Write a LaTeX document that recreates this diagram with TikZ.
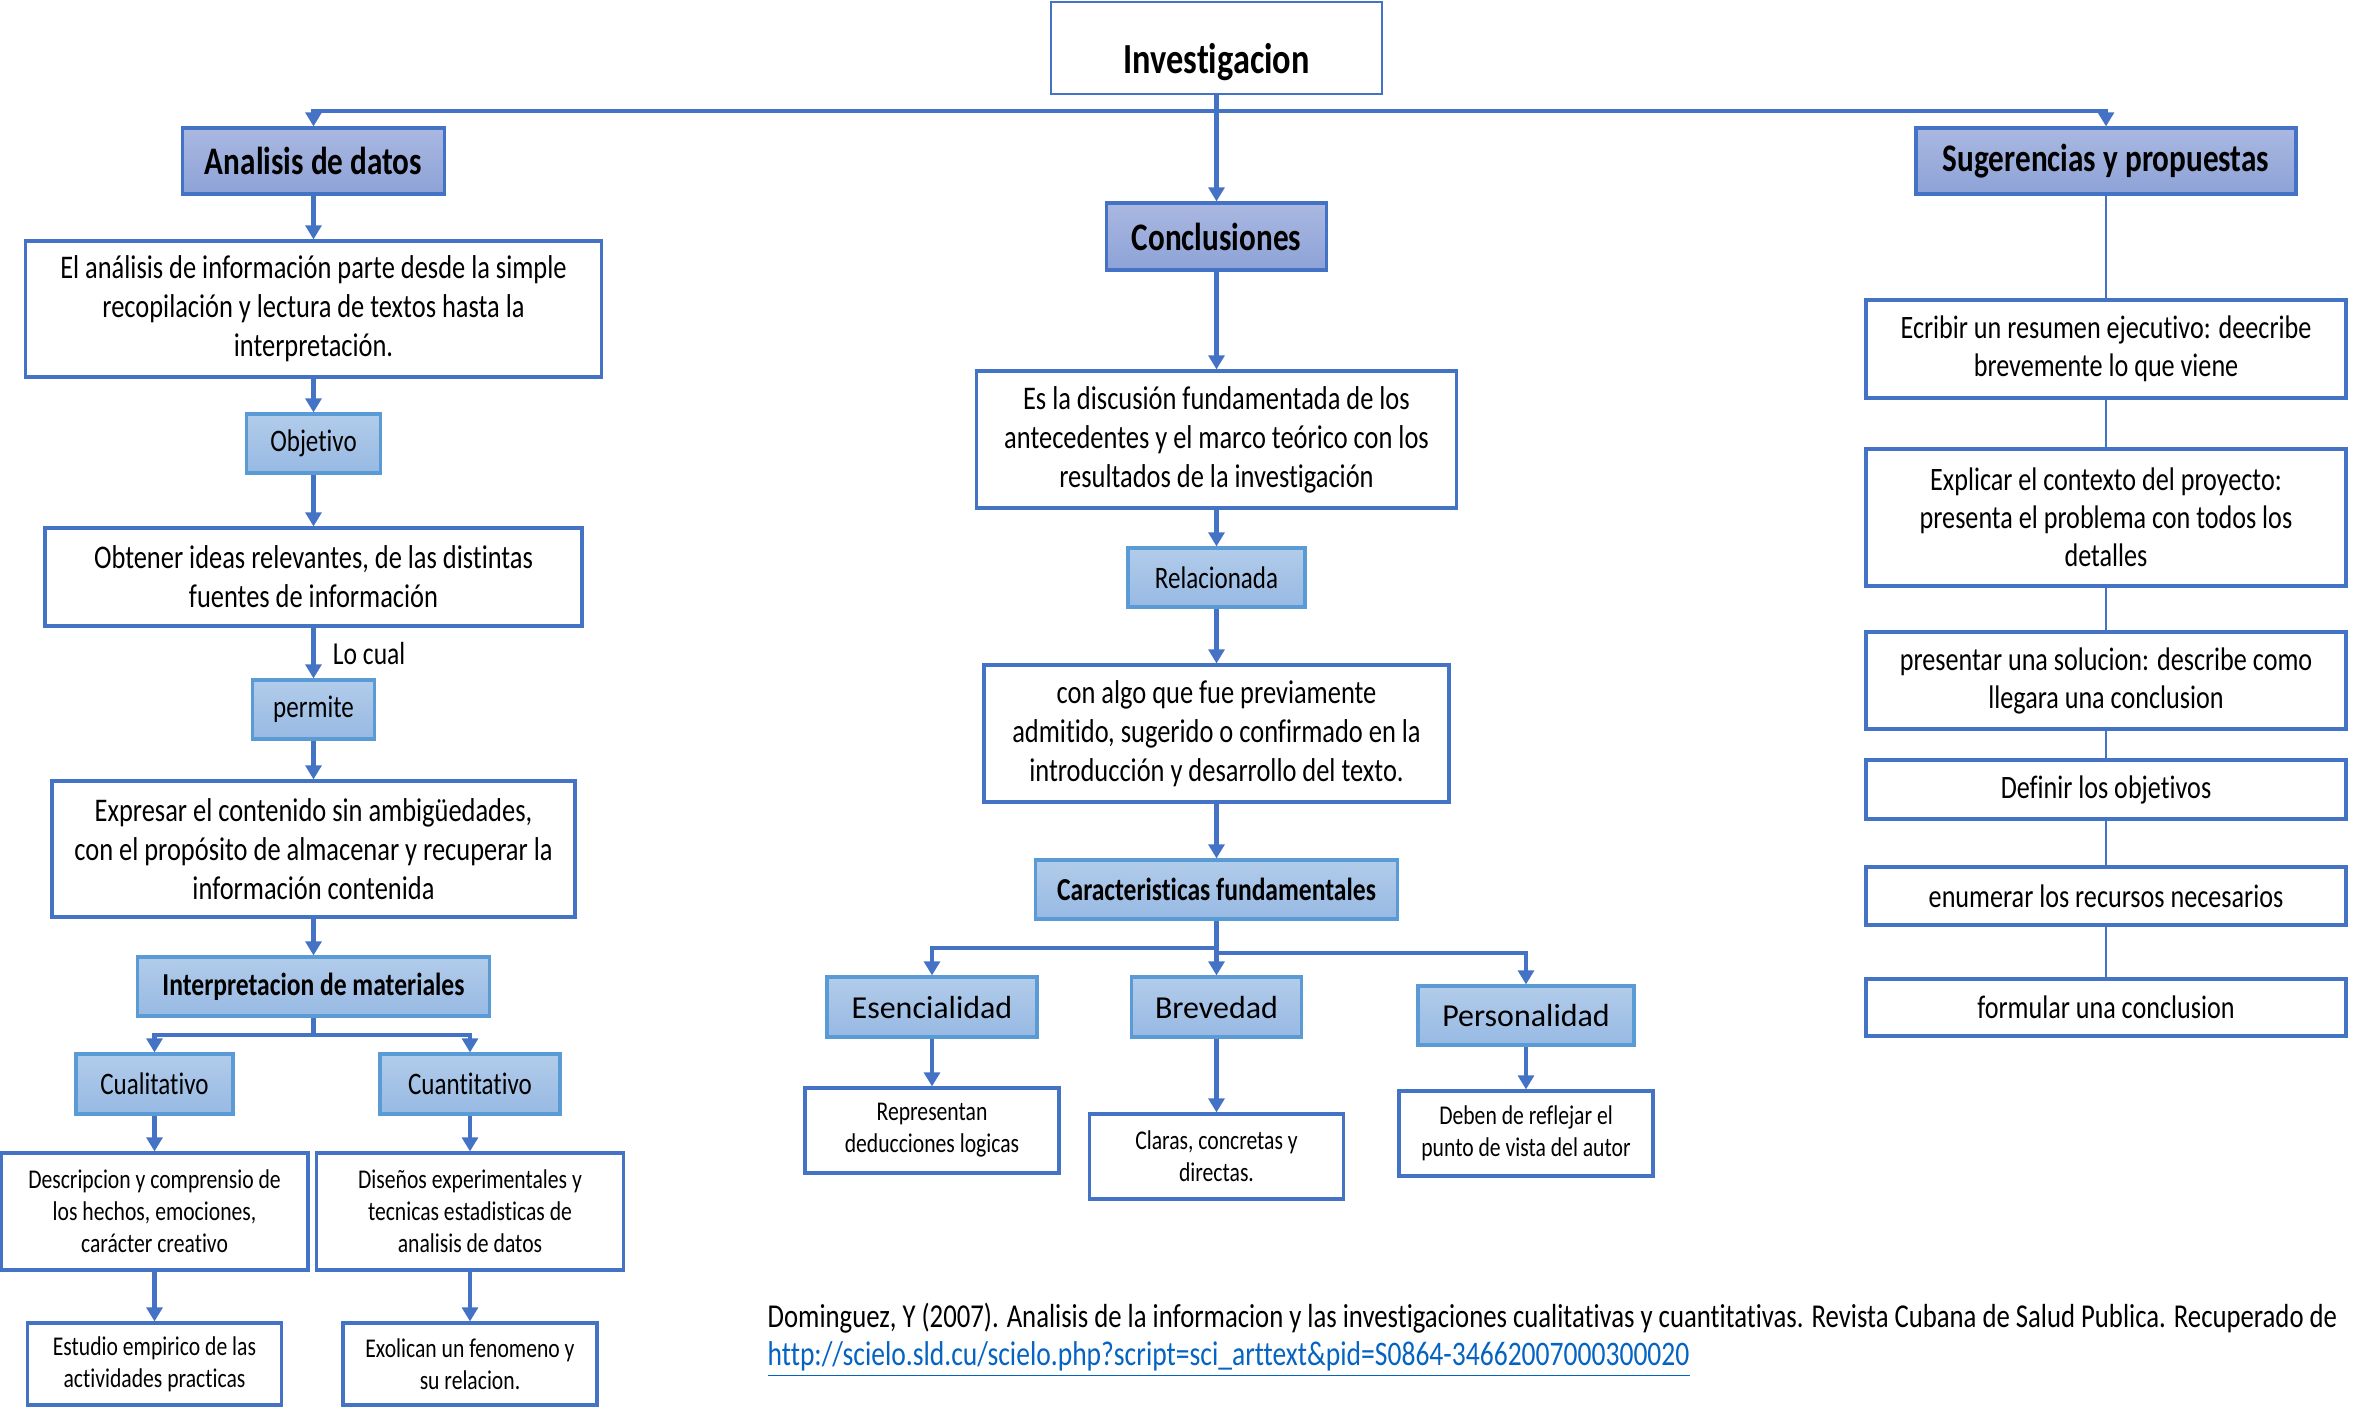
\documentclass[tikz,border=0pt]{standalone}
\usepackage{fontspec}
\setmainfont{Carlito}[FakeStretch=0.8, Ligatures=NoCommon]
\newfontfamily\anchafont{Carlito}[Ligatures=NoCommon]
\usetikzlibrary{arrows.meta}

\definecolor{azul}{HTML}{4472C4}
\definecolor{azulclaro}{HTML}{5B9BD5}
\definecolor{lilaA}{HTML}{AAB8E1}
\definecolor{lilaB}{HTML}{8DA2D7}
\definecolor{celesteA}{HTML}{B2CCEA}
\definecolor{celesteB}{HTML}{97B9E3}
\definecolor{enlace}{HTML}{0563C1}

\tikzset{
  titulo/.style={draw=azul, line width=0.9pt, top color=lilaA, bottom color=lilaB,
    inner sep=0pt, font=\bfseries\fontsize{11.1}{13}\selectfont},
  etiqueta/.style={draw=azulclaro, line width=0.9pt, top color=celesteA, bottom color=celesteB,
    inner sep=0pt, font=\fontsize{8.9}{10}\selectfont},
  etiquetanegrita/.style={etiqueta, font=\bfseries\fontsize{9.1}{11}\selectfont},
  etiquetaancha/.style={etiqueta, font=\anchafont\fontsize{9.1}{11}\selectfont},
  texto/.style={draw=azul, line width=0.9pt, fill=white, inner sep=0pt, align=center,
    font=\fontsize{9.4}{11.1}\selectfont},
  textochico/.style={texto, font=\fontsize{7.7}{9.1}\selectfont},
  paso/.style={texto, minimum width=4.8cm, font=\fontsize{9.3}{10.8}\selectfont},
  flecha/.style={azul, line width=1.4pt, -{Triangle[length=4pt,width=4.5pt]}},
  linea/.style={azul, line width=1.4pt},
  fina/.style={azul, line width=0.7pt},
}

\begin{document}
\begin{tikzpicture}

\useasboundingbox (0,0) rectangle (23.61,-14.08);

% Raiz
\node[draw=azul, line width=0.7pt, fill=white, inner sep=0pt, minimum width=3.31cm, minimum height=0.92cm,
  text height=0.5cm, text depth=0pt,
  font=\bfseries\fontsize{12.2}{14}\selectfont] (inv) at (12.165,-0.48) {Investigacion};

% Tres ramas
\node[titulo, minimum width=2.62cm, minimum height=0.66cm] (ana) at (3.135,-1.61) {Analisis de datos};
\node[titulo, minimum width=2.20cm, minimum height=0.67cm] (con) at (12.165,-2.365) {Conclusiones};
\node[titulo, minimum width=3.80cm, minimum height=0.66cm] (sug) at (21.06,-1.61) {Sugerencias y propuestas};

% Columna izquierda
\node[texto, minimum width=5.76cm, minimum height=1.36cm] (anaA) at (3.135,-3.09)
  {El análisis de información parte desde la simple\\ recopilación y lectura de textos hasta la\\ interpretación.};
\node[etiqueta, minimum width=1.34cm, minimum height=0.59cm] (obj) at (3.135,-4.435) {Objetivo};
\node[texto, minimum width=5.37cm, minimum height=0.98cm] (obt) at (3.135,-5.77)
  {Obtener ideas relevantes, de las distintas\\ fuentes de información};
\node[etiqueta, minimum width=1.22cm, minimum height=0.59cm] (per) at (3.135,-7.095) {permite};
\node[texto, minimum width=5.23cm, minimum height=1.36cm] (exp) at (3.135,-8.49)
  {Expresar el contenido sin ambigüedades,\\ con el propósito de almacenar y recuperar la\\ información contenida};
\node[etiquetanegrita, minimum width=3.52cm, minimum height=0.59cm] (itp) at (3.135,-9.865) {Interpretacion de materiales};

\node[etiqueta, minimum width=1.57cm, minimum height=0.60cm] (cual) at (1.545,-10.84) {Cualitativo};
\node[etiqueta, minimum width=1.80cm, minimum height=0.60cm] (cuan) at (4.70,-10.84) {Cuantitativo};
\node[textochico, minimum width=3.07cm, minimum height=1.17cm] (desc) at (1.545,-12.115)
  {Descripcion y comprensio de\\ los hechos, emociones,\\ carácter creativo};
\node[textochico, minimum width=3.07cm, minimum height=1.17cm] (dis) at (4.70,-12.115)
  {Diseños experimentales y\\ tecnicas estadisticas de\\ analisis de datos};
\node[textochico, minimum width=2.54cm, minimum height=0.82cm] (est) at (1.545,-13.64)
  {Estudio empirico de las\\ actividades practicas};
\node[textochico, minimum width=2.54cm, minimum height=0.82cm] (exo) at (4.70,-13.64)
  {Exolican un fenomeno y\\ su relacion.};

% Columna central
\node[texto, minimum width=4.80cm, minimum height=1.37cm] (disc) at (12.165,-4.395)
  {Es la discusión fundamentada de los\\ antecedentes y el marco teórico con los\\ resultados de la investigación};
\node[etiqueta, minimum width=1.77cm, minimum height=0.59cm] (rel) at (12.165,-5.775) {Relacionada};
\node[texto, minimum width=4.65cm, minimum height=1.37cm] (algo) at (12.165,-7.335)
  {con algo que fue previamente\\ admitido, sugerido o confirmado en la\\ introducción y desarrollo del texto.};
\node[etiquetanegrita, minimum width=3.62cm, minimum height=0.59cm] (car) at (12.165,-8.895) {Caracteristicas fundamentales};

\node[etiquetaancha, minimum width=2.10cm, minimum height=0.60cm] (ese) at (9.32,-10.07) {Esencialidad};
\node[etiquetaancha, minimum width=1.70cm, minimum height=0.60cm] (bre) at (12.165,-10.07) {Brevedad};
\node[etiquetaancha, minimum width=2.16cm, minimum height=0.59cm] (pers) at (15.26,-10.155) {Personalidad};
\node[textochico, minimum width=2.54cm, minimum height=0.85cm] (rep) at (9.32,-11.305)
  {Representan\\ deducciones logicas};
\node[textochico, minimum width=2.54cm, minimum height=0.85cm] (cla) at (12.165,-11.565)
  {Claras, concretas y\\ directas.};
\node[textochico, minimum width=2.54cm, minimum height=0.85cm] (deb) at (15.26,-11.335)
  {Deben de reflejar el\\ punto de vista del autor};

% Columna derecha
\node[paso, minimum height=0.98cm] (ecr) at (21.06,-3.49)
  {Ecribir un resumen ejecutivo: deecribe\\ brevemente lo que viene};
\node[paso, minimum height=1.37cm] (expl) at (21.06,-5.175)
  {Explicar el contexto del proyecto:\\ presenta el problema con todos los\\ detalles};
\node[paso, minimum height=0.97cm] (pres) at (21.06,-6.805)
  {presentar una solucion: describe como\\ llegara una conclusion};
\node[paso, minimum height=0.59cm] (def) at (21.06,-7.895) {Definir los objetivos};
\node[paso, minimum height=0.58cm] (enu) at (21.06,-8.96) {enumerar los recursos necesarios};
\node[paso, minimum height=0.57cm] (form) at (21.06,-10.075) {formular una conclusion};

% Referencia
\node[anchor=base west, inner sep=0pt, font=\fontsize{9.5}{10}\selectfont] (ref) at (7.67,-13.27)
  {Dominguez, Y (2007). Analisis de la informacion y las investigaciones cualitativas y cuantitativas. Revista Cubana de Salud Publica. Recuperado de};
\node[anchor=base west, inner sep=0pt, font=\fontsize{9.8}{10}\selectfont, text=enlace] (url) at (7.67,-13.65)
  {\underline{http://scielo.sld.cu/scielo.php?script=sci\_arttext\&pid=S0864-34662007000300020}};

% Conectores de la raiz
\coordinate (rama) at (12.165,-1.11);
\draw[linea] (inv) -- (rama);
\draw[flecha] (rama) -| (ana.north);
\draw[flecha] (rama) -| (sug.north);
\draw[flecha] (rama) -- (con);

% Conectores izquierda
\draw[flecha] (ana) -- (anaA);
\draw[flecha] (anaA) -- (obj);
\draw[flecha] (obj) -- (obt);
\draw[flecha] (obt) -- node[right, inner sep=0pt, xshift=0.17cm, text=black, font=\fontsize{9.1}{11}\selectfont] (locual) {Lo cual} (per);
\draw[flecha] (per) -- (exp);
\draw[flecha] (exp) -- (itp);
\coordinate (bitp) at (3.135,-10.35);
\draw[linea] (itp) -- (bitp);
\draw[flecha] (bitp) -| (cual.north);
\draw[flecha] (bitp) -| (cuan.north);
\draw[flecha] (cual) -- (desc);
\draw[flecha] (cuan) -- (dis);
\draw[flecha] (desc) -- (est);
\draw[flecha] (dis) -- (exo);

% Conectores centro
\draw[flecha] (con) -- (disc);
\draw[flecha] (disc) -- (rel);
\draw[flecha] (rel) -- (algo);
\draw[flecha] (algo) -- (car);
\coordinate (bcar) at (12.165,-9.48);
\coordinate (bcarB) at (12.165,-9.53);
\draw[linea] (car) -- (bcarB);
\draw[flecha] (bcar) -| (ese.north);
\draw[flecha] (bcar) -- (bre);
\draw[flecha] (bcarB) -| (pers.north);
\draw[flecha] (ese) -- (rep);
\draw[flecha] (bre) -- (cla);
\draw[flecha] (pers) -- (deb);

% Conectores derecha
\draw[fina] (sug) -- (ecr);
\draw[fina] (ecr) -- (expl);
\draw[fina] (expl) -- (pres);
\draw[fina] (pres) -- (def);
\draw[fina] (def) -- (enu);
\draw[fina] (enu) -- (form);

\end{tikzpicture}
\end{document}
